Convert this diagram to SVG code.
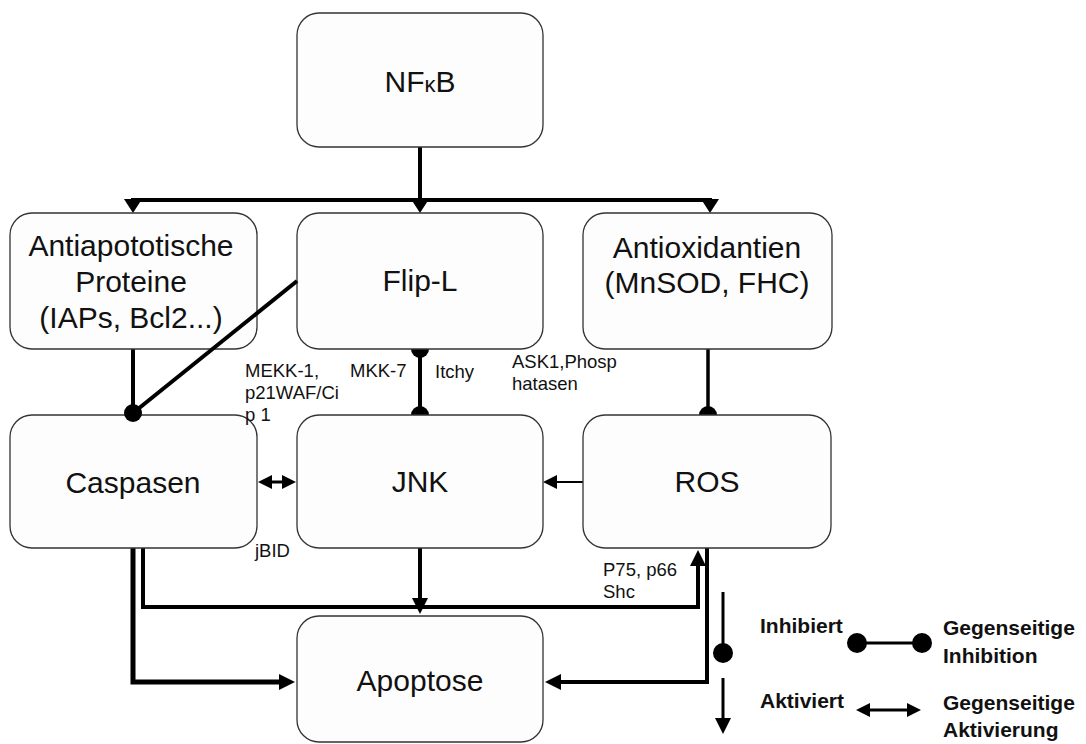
<svg xmlns="http://www.w3.org/2000/svg" width="1086" height="744" viewBox="0 0 1086 744">
<defs>
<style>
.box{fill:#fdfdfd;stroke:#333;stroke-width:1.3}
.t{font-family:"Liberation Sans",Arial,sans-serif;font-size:30px;fill:#111;text-anchor:middle}
.s{font-family:"Liberation Sans",Arial,sans-serif;font-size:18.5px;fill:#111}
.l{font-family:"Liberation Sans",Arial,sans-serif;font-size:21px;font-weight:bold;fill:#111}
.c{fill:none;stroke:#000;stroke-linejoin:miter}
</style>
<marker id="ah" markerUnits="userSpaceOnUse" markerWidth="16" markerHeight="16" refX="10" refY="8" orient="auto-start-reverse" viewBox="0 0 16 16">
<path d="M0,0 L16,8 L0,16 z" fill="#000"/>
</marker>
<marker id="as" markerUnits="userSpaceOnUse" markerWidth="14" markerHeight="14" refX="8" refY="7" orient="auto-start-reverse" viewBox="0 0 14 14">
<path d="M0,0 L14,7 L0,14 z" fill="#000"/>
</marker>
</defs>
<rect width="1086" height="744" fill="#fff"/>

<g id="connectors">
<path class="c" stroke-width="4" d="M420,147 L420,200"/>
<path class="c" stroke-width="4" d="M131,200 L712,200"/>
<polygon points="124,199 142,199 133,213" fill="#000"/>
<polygon points="411,199 429,199 420,213" fill="#000"/>
<polygon points="701,199 719,199 710,213" fill="#000"/>
<path class="c" stroke-width="4" d="M133,349 L133,413"/>
<path class="c" stroke-width="4" d="M420,349 L420,415"/>
<circle cx="420" cy="349" r="9" fill="#000"/>
<circle cx="420" cy="415" r="9" fill="#000"/>
<path class="c" stroke-width="3.5" d="M708,349 L708,415"/>
<circle cx="708" cy="415" r="9" fill="#000"/>
<path class="c" stroke-width="3" d="M264,482 L290,482" marker-start="url(#as)" marker-end="url(#as)"/>
<path class="c" stroke-width="2" d="M583,482 L549,482" marker-end="url(#as)"/>
<path class="c" stroke-width="4" d="M420,548 L420,608" marker-end="url(#ah)"/>
<path class="c" stroke-width="5" d="M133,548 L133,682 L289,682" marker-end="url(#ah)"/>
<path class="c" stroke-width="4" d="M143,548 L143,607 L698,607 L698,556" marker-end="url(#ah)"/>
<path class="c" stroke-width="4" d="M707,548 L707,682 L551,682" marker-end="url(#ah)"/>
</g>

<g id="nfkb"><rect class="box" x="297" y="13" width="246" height="134" rx="22"/>
<text class="t" x="420" y="92">NF<tspan font-size="22">κ</tspan>B</text></g>

<g id="antiapo"><rect class="box" x="10" y="213" width="247" height="136" rx="22"/>
<text class="t" x="131" y="256">Antiapototische</text>
<text class="t" x="131" y="292">Proteine</text>
<text class="t" x="131" y="328">(IAPs, Bcl2...)</text></g>

<g id="flipl"><rect class="box" x="297" y="213" width="246" height="136" rx="22"/>
<text class="t" x="420" y="291">Flip-L</text></g>

<g id="antiox"><rect class="box" x="583" y="213" width="249" height="136" rx="22"/>
<text class="t" x="707" y="258">Antioxidantien</text>
<text class="t" x="707" y="293">(MnSOD, FHC)</text></g>

<g id="caspasen"><rect class="box" x="10" y="415" width="247" height="133" rx="22"/>
<text class="t" x="133" y="493" font-size="32">Caspasen</text></g>

<g id="jnk"><rect class="box" x="297" y="415" width="246" height="133" rx="22"/>
<text class="t" x="420" y="492">JNK</text></g>

<g id="ros"><rect class="box" x="583" y="415" width="248" height="133" rx="22"/>
<text class="t" x="707" y="492">ROS</text></g>

<g id="apoptose"><rect class="box" x="297" y="616" width="246" height="126" rx="22"/>
<text class="t" x="420" y="691">Apoptose</text></g>

<g id="overlay">
<path class="c" stroke-width="4" d="M297,281 L138,409"/>
<circle cx="133" cy="413" r="9" fill="#000"/>
</g>

<g id="labels">
<text class="s" x="245" y="377">MEKK-1,</text>
<text class="s" x="245" y="399">p21WAF/Ci</text>
<text class="s" x="245" y="421">p 1</text>
<text class="s" x="350" y="377">MKK-7</text>
<text class="s" x="435" y="378">Itchy</text>
<text class="s" x="512" y="368">ASK1,Phosp</text>
<text class="s" x="512" y="390">hatasen</text>
<text class="s" x="255" y="557">jBID</text>
<text class="s" x="603" y="576">P75, p66</text>
<text class="s" x="603" y="598">Shc</text>
</g>

<g id="legend">
<path class="c" stroke-width="3" d="M723,592 L723,650"/>
<circle cx="723" cy="653" r="10" fill="#000"/>
<path class="c" stroke-width="3" d="M723,678 L723,728" marker-end="url(#ah)"/>
<text class="l" x="760" y="633">Inhibiert</text>
<path class="c" stroke-width="3" d="M857,643 L922,643"/>
<circle cx="857" cy="643" r="10" fill="#000"/>
<circle cx="922" cy="643" r="10" fill="#000"/>
<text class="l" x="943" y="635">Gegenseitige</text>
<text class="l" x="943" y="663">Inhibition</text>
<text class="l" x="760" y="708">Aktiviert</text>
<path class="c" stroke-width="3" d="M862,710 L915,710" marker-start="url(#as)" marker-end="url(#as)"/>
<text class="l" x="943" y="710">Gegenseitige</text>
<text class="l" x="943" y="737">Aktivierung</text>
</g>
</svg>
